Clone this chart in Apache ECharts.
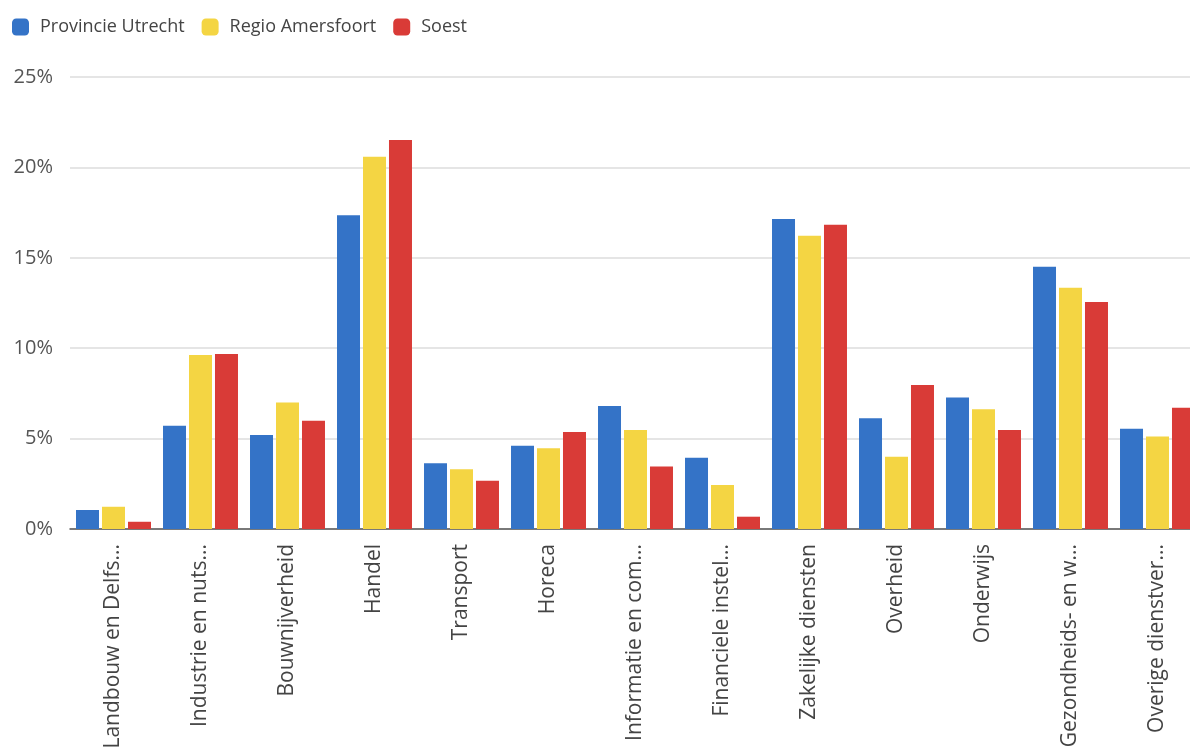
<!DOCTYPE html>
<html>
<head>
<meta charset="utf-8">
<script src="https://cdn.jsdelivr.net/npm/echarts@6/dist/echarts.min.js"></script>
<style>
html,body{margin:0;padding:0;background:#fff;overflow:hidden;width:1190px;height:748px;}
#chart{width:1210px;height:800px;}
</style>
</head>
<body>
<div id="chart"></div>
<script>
const categories = ["Landbouw en Delfs...","Industrie en nuts...","Bouwnijverheid","Handel","Transport","Horeca","Informatie en com...","Financiele instel...","Zakelijke diensten","Overheid","Onderwijs","Gezondheids- en w...","Overige dienstver..."];
const seriesNames = ["Provincie Utrecht","Regio Amersfoort","Soest"];
const provincieUtrecht = [1.05,5.71,5.2,17.35,3.63,4.61,6.8,3.94,17.15,6.12,7.28,14.51,5.55];
const regioAmersfoort = [1.23,9.62,6.99,20.59,3.3,4.46,5.48,2.43,16.22,4.0,6.62,13.35,5.11];
const soest = [0.4,9.68,5.99,21.52,2.67,5.36,3.45,0.68,16.83,7.96,5.48,12.56,6.71];
const yTicks = [0,5,10,15,20,25];

const colors = ["#3473c7","#f4d543","#d93b37"];
const font = "'Open Sans', sans-serif";
const chart = echarts.init(document.getElementById('chart'), null, {renderer:'canvas'});
const dataSets = [provincieUtrecht, regioAmersfoort, soest];
chart.setOption({
  animation:false,
  color: colors,
  legend:{
    left: 7, top: 13, itemWidth: 17, itemHeight: 17, itemGap: 17,
    icon: 'roundRect',
    textStyle:{fontFamily:font,fontSize:18,color:'#444',padding:[0,0,0,6]},
    data: seriesNames
  },
  grid:{left:70,right:9,top:77,bottom:271,containLabel:false,outerBoundsMode:'none'},
  xAxis:{
    type:'category', data:categories,
    axisLine:{lineStyle:{color:'#555',width:1.5}},
    axisTick:{show:false},
    axisLabel:{rotate:90,interval:0,margin:15,fontFamily:font,fontSize:21,color:'#444'}
  },
  yAxis:{
    type:'value', min:yTicks[0], max:yTicks[yTicks.length-1], interval:5,
    axisLine:{show:false}, axisTick:{show:false},
    splitLine:{lineStyle:{color:'#dcdcdc',width:1.5}},
    axisLabel:{formatter:'{value}%',margin:17,fontFamily:font,fontSize:20,color:'#555'}
  },
  series: dataSets.map((d,i)=>({
    name: seriesNames[i], type:'bar', data:d,
    barWidth:23, barGap:'13%'
  }))
});
</script>
</body>
</html>
